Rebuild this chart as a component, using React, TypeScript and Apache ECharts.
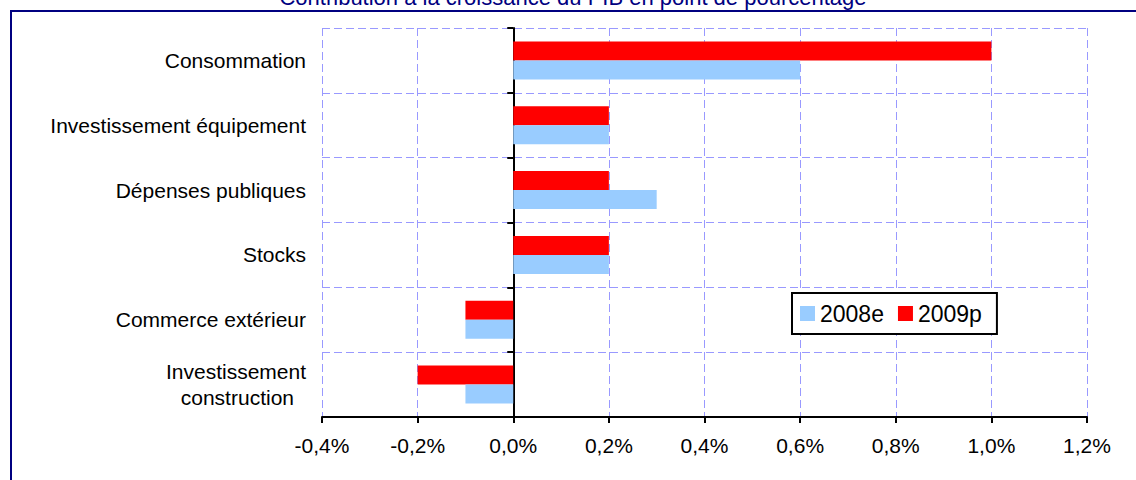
import React, { useEffect, useRef } from "react";
import * as echarts from "echarts";

const categories = [
  "Consommation",
  "Investissement équipement",
  "Dépenses publiques",
  "Stocks",
  "Commerce extérieur",
  "Investissement construction",
];
const values2008e = [0.6, 0.2, 0.3, 0.2, -0.1, -0.1];
const values2009p = [1.0, 0.2, 0.2, 0.2, -0.1, -0.2];
const seriesNames = ["2008e", "2009p"];
const titleText = "Contribution à la croissance du PIB en point de pourcentage";

const FONT = 'Arial, "Liberation Sans", sans-serif';

export default function App() {
  const ref = useRef<HTMLDivElement>(null);
  useEffect(() => {
    if (!ref.current) return;
    const chart = echarts.init(ref.current, undefined, { renderer: "svg" });
    const grid = "#9999FF";
    chart.setOption({
      animation: false,
      textStyle: { fontFamily: FONT },
      graphic: [
        {
          type: "rect",
          shape: { x: 11, y: 11, width: 1300, height: 700 },
          style: { fill: "none", stroke: "#000080", lineWidth: 2 },
          silent: true,
        },
        {
          type: "text",
          x: 573,
          y: -3,
          style: {
            text: titleText,
            fill: "#000080",
            font: `22px ${FONT}`,
            textAlign: "center",
            textVerticalAlign: "middle",
          },
        },
      ],
      legend: {
        data: seriesNames,
        left: 792,
        top: 293,
        orient: "horizontal",
        icon: "rect",
        itemWidth: 15,
        itemHeight: 15,
        itemGap: 14,
        padding: [9, 15, 9, 8],
        borderColor: "#000",
        borderWidth: 2,
        backgroundColor: "#fff",
        textStyle: { fontSize: 23, color: "#000", fontFamily: FONT },
      },
      grid: { left: 322, right: 49, top: 28, bottom: 63, containLabel: false },
      xAxis: {
        type: "value",
        min: -0.4,
        max: 1.2,
        interval: 0.2,
        axisLine: { show: true, lineStyle: { color: "#000", width: 2 } },
        axisTick: { show: true, length: 6, lineStyle: { color: "#000", width: 2 } },
        axisLabel: {
          color: "#000",
          fontSize: 21,
          fontFamily: FONT,
          margin: 18,
          formatter: (v: number) => v.toFixed(1).replace(".", ",") + "%",
        },
        splitLine: { show: true, lineStyle: { color: grid, type: [8, 4], width: 1 } },
      },
      yAxis: [
        {
          type: "category",
          data: categories,
          inverse: true,
          axisLine: { show: false, onZero: false },
          axisTick: { show: false },
          splitLine: { show: true, lineStyle: { color: [grid], type: [8, 4], width: 1 } },
          axisLabel: {
            color: "#000",
            fontSize: 21,
            fontFamily: FONT,
            margin: 16,
            formatter: (v: string) => {
              if (v === "Investissement construction") {
                return "{a|Investissement}\n{b|construction}";
              }
              return v;
            },
            rich: {
              a: { fontSize: 21, fontFamily: FONT, color: "#000", lineHeight: 26 },
              b: {
                fontSize: 21,
                fontFamily: FONT,
                color: "#000",
                lineHeight: 26,
                padding: [0, 12, 0, 0],
              },
            },
          },
        },
        {
          type: "category",
          data: categories,
          inverse: true,
          position: "left",
          axisLine: { show: true, onZero: true, lineStyle: { color: "#000", width: 2 } },
          axisTick: { show: true, length: 6, lineStyle: { color: "#000", width: 2 } },
          axisLabel: { show: false },
          splitLine: { show: false },
        },
      ],
      series: [
        {
          name: "2009p",
          type: "bar",
          data: values2009p,
          barWidth: 19,
          barGap: "0%",
          itemStyle: { color: "#FF0000" },
        },
        {
          name: "2008e",
          type: "bar",
          data: values2008e,
          barWidth: 19,
          barGap: "0%",
          itemStyle: { color: "#99CCFF" },
        },
      ],
    });
    return () => chart.dispose();
  }, []);
  return (
    <div
      ref={ref}
      style={{ position: "fixed", left: 0, top: 0, width: 1136, height: 480, background: "#fff" }}
    />
  );
}
